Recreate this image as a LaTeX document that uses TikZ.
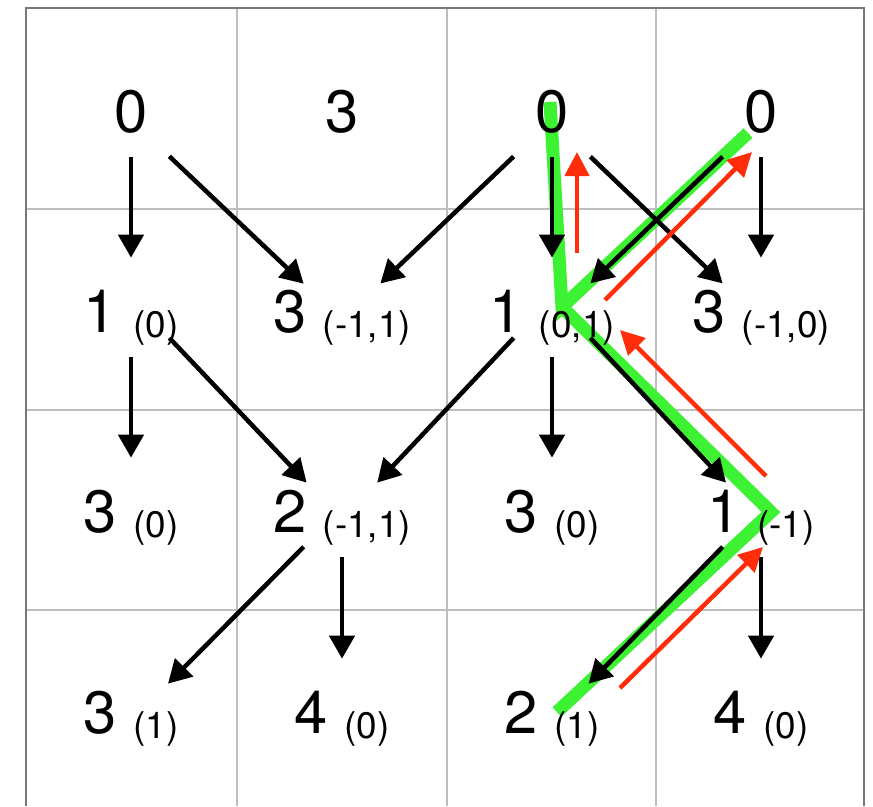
\documentclass[tikz,border=0pt]{standalone}
\usepackage{fontspec}
\setmainfont{TeX Gyre Heros}
\usetikzlibrary{arrows.meta}
\definecolor{gridgray}{RGB}{190,190,190}
\definecolor{framegray}{RGB}{120,120,120}
\definecolor{pathgreen}{RGB}{60,242,50}
\definecolor{backred}{RGB}{255,45,10}
\newcommand{\lab}[1]{\raisebox{-0.1cm}{\fontsize{21pt}{24pt}\selectfont #1}}

\begin{document}
\begin{tikzpicture}[x=0.02cm,y=-0.02cm]
\tikzstyle{every node}=[inner sep=0pt,minimum width=1.52cm,text height=0.98cm,text depth=0.5cm,anchor=base,font=\fontsize{34pt}{40pt}\selectfont]
\tikzstyle{arr}=[line width=0.09cm,-{Triangle[length=0.46cm,width=0.5cm]}]
\tikzstyle{down}=[arr,shorten >=0.5cm]
\tikzstyle{back}=[line width=0.09cm,backred,-{Triangle[length=0.48cm,width=0.48cm]}]
\tikzstyle{trail}=[line width=0.26cm,pathgreen,line join=miter]
\useasboundingbox (0,0) rectangle (873,806);
% grid
\draw[gridgray,line width=0.04cm] (237,8) -- (237,806) (447,8) -- (447,806) (656,8) -- (656,806)
  (26,209) -- (864,209) (26,410) -- (864,410) (26,610) -- (864,610);
\draw[framegray,line width=0.05cm] (26,806) -- (26,8) -- (864,8) -- (864,806);
% green trail
\coordinate (g0) at (550,102);
\coordinate (g1) at (562,307);
\coordinate (g2) at (748,133);
\coordinate (g3) at (771,512);
\coordinate (g4) at (557,712);
\draw[trail] (g0) -- (g1) -- (g2);
\draw[trail] (g1) -- (g3) -- (g4);
% cells
\node (n00) at (131,132) {\makebox[0pt]{0}};
\node (n01) at (342,132) {\makebox[0pt]{3}};
\node (n02) at (552,132) {\makebox[0pt]{0}};
\node (n03) at (761,132) {\makebox[0pt]{0}};
\node (n10) at (131,332) {\makebox[0pt]{1 \lab{(0)}}};
\node (n11) at (342,332) {\makebox[0pt]{3 \lab{(-1,1)}}};
\node (n12) at (552,332) {\makebox[0pt]{1 \lab{(0,1)}}};
\node (n13) at (761,332) {\makebox[0pt]{3 \lab{(-1,0)}}};
\node (n20) at (131,532) {\makebox[0pt]{3 \lab{(0)}}};
\node (n21) at (342,532) {\makebox[0pt]{2 \lab{(-1,1)}}};
\node (n22) at (552,532) {\makebox[0pt]{3 \lab{(0)}}};
\node (n23) at (761,532) {\makebox[0pt]{1 \lab{(-1)}}};
\node (n30) at (131,733) {\makebox[0pt]{3 \lab{(1)}}};
\node (n31) at (342,733) {\makebox[0pt]{4 \lab{(0)}}};
\node (n32) at (552,733) {\makebox[0pt]{2 \lab{(1)}}};
\node (n33) at (761,733) {\makebox[0pt]{4 \lab{(0)}}};
% black arrows
\draw[down] (n00) -- (n10);
\draw[arr] (n00) -- (n11);
\draw[arr] (n02) -- (n11);
\draw[down] (n02) -- (n12);
\draw[arr] (n02) -- (n13);
\draw[down] (n03) -- (n13);
\draw[arr] (n03) -- (n12);
\draw[down] (n10) -- (n20);
\draw[arr] (n10.-25) -- (n21);
\draw[arr] (n12.-155) -- (n21);
\draw[down] (n12) -- (n22);
\draw[arr] (n12.-25) -- (n23);
\draw[arr] (n21.-145) -- (n30);
\draw[down] (n21) -- (n31);
\draw[down] (n23) -- (n33);
\draw[arr] (n23.-145) -- (n32);
% red arrows
\coordinate (r1s) at (577,253); \coordinate (r1e) at (577,152);
\coordinate (r2s) at (605,300); \coordinate (r2e) at (752,152);
\coordinate (r3s) at (766,476); \coordinate (r3e) at (620,330);
\coordinate (r4s) at (620,688); \coordinate (r4e) at (763,547);
\draw[back] (r1s) -- (r1e);
\draw[back] (r2s) -- (r2e);
\draw[back] (r3s) -- (r3e);
\draw[back] (r4s) -- (r4e);
\end{tikzpicture}
\end{document}
